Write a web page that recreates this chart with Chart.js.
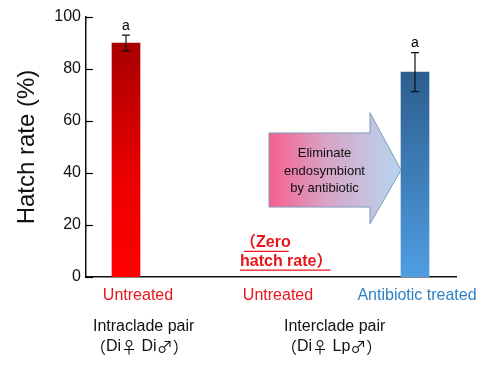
<!DOCTYPE html>
<html>
<head>
<meta charset="utf-8">
<script src="https://cdn.jsdelivr.net/npm/chart.js@4.4.1/dist/chart.umd.min.js"></script>
<style>
  html, body { margin: 0; padding: 0; background: #fff; }
  #wrap { width: 500px; height: 367px; }
</style>
</head>
<body>
<div id="wrap"><canvas id="hatchChart"></canvas></div>
<script>
"use strict";

// data
var barPos = [40, 192, 329];            // bar centres on the x scale
var hatchRate = [90, 0, 78.8];          // mean hatch rate (%)
var hatchErr = [3, 0, 7.5];             // error bar half-length
var sigLetters = ["a", "", "a"];
var tickPos = [52, 192, 331];           // where the treatment labels sit
var treatLabels = ["Untreated", "Untreated", "Antibiotic treated"];
var treatColors = ["#e8151c", "#e8151c", "#2f80c3"];
var yTicks = [0, 20, 40, 60, 80, 100];

var groupLabels = [
  { x: 7, lines: ["Intraclade pair", "（Di♀ Di♂）"] },
  { x: 198, lines: ["Interclade pair", "（Di♀ Lp♂）"] }
];

var FONT = "'Liberation Sans', Arial, 'Noto Sans CJK JP', sans-serif";
var CJK = "'Noto Sans CJK JP', 'Liberation Sans', sans-serif";

// draw text char by char, symbols and full-width brackets from the CJK font
function drawMixed(c, text, x, y) {
  var wide = "（）♀♂";
  for (var i = 0; i < text.length; i++) {
    var ch = text[i];
    c.font = wide.indexOf(ch) >= 0 ? "16px " + CJK : "16px " + FONT;
    c.fillText(ch, x, y);
    x += c.measureText(ch).width;
  }
}

function barGradient(ctx, i) {
  var chart = ctx.chart;
  if (!chart.chartArea) return i === 2 ? "#3d7fbf" : "#dd0000";
  var y = chart.scales.y;
  var top = y.getPixelForValue(hatchRate[i]);
  var bottom = y.getPixelForValue(0);
  var g = chart.ctx.createLinearGradient(0, top, 0, bottom);
  if (i === 2) {
    g.addColorStop(0, "#2d5e8e");
    g.addColorStop(1, "#4f9de2");
  } else {
    g.addColorStop(0, "#a80000");
    g.addColorStop(0.6, "#ee0000");
    g.addColorStop(1, "#ff0000");
  }
  return g;
}

// inward tick marks, error bars, letters, arrow, notes
var decorations = {
  id: "decorations",
  afterDraw: function (chart) {
    var c = chart.ctx;
    var xs = chart.scales.x;
    var ys = chart.scales.y;
    var area = chart.chartArea;

    c.save();
    // y tick marks pointing inward
    c.strokeStyle = "#000";
    c.lineWidth = 1.2;
    yTicks.forEach(function (v) {
      var py = Math.round(ys.getPixelForValue(v)) + 0.5;
      c.beginPath();
      c.moveTo(area.left, py);
      c.lineTo(area.left + 7, py);
      c.stroke();
    });

    // error bars + significance letters
    hatchRate.forEach(function (v, i) {
      if (!hatchErr[i]) return;
      var px = xs.getPixelForValue(barPos[i]);
      var top = ys.getPixelForValue(v + hatchErr[i]);
      var bot = ys.getPixelForValue(v - hatchErr[i]);
      c.strokeStyle = "#111";
      c.lineWidth = 1.2;
      c.beginPath();
      c.moveTo(px, top); c.lineTo(px, bot);
      c.moveTo(px - 4, top); c.lineTo(px + 4, top);
      c.moveTo(px - 4, bot); c.lineTo(px + 4, bot);
      c.stroke();
      c.fillStyle = "#000";
      c.font = "14px " + FONT;
      c.textAlign = "center";
      c.textBaseline = "bottom";
      c.fillText(sigLetters[i], px, top - 2);
    });

    // arrow "Eliminate endosymbiont by antibiotic"
    var x0 = xs.getPixelForValue(183), x1 = xs.getPixelForValue(284), x2 = xs.getPixelForValue(315);
    var bT = ys.getPixelForValue(55.4), bB = ys.getPixelForValue(26.9);
    var hT = ys.getPixelForValue(63.2), hB = ys.getPixelForValue(20.4);
    var mid = (bT + bB) / 2;
    var g = c.createLinearGradient(x0, 0, x2, 0);
    g.addColorStop(0, "#f65f8e");
    g.addColorStop(0.45, "#d7a6c8");
    g.addColorStop(1, "#b7d6ef");
    c.beginPath();
    c.moveTo(x0, bT); c.lineTo(x1, bT); c.lineTo(x1, hT); c.lineTo(x2, mid);
    c.lineTo(x1, hB); c.lineTo(x1, bB); c.lineTo(x0, bB); c.closePath();
    c.fillStyle = g;
    c.fill();
    c.strokeStyle = "#7d9cbd";
    c.lineWidth = 1;
    c.stroke();
    c.fillStyle = "#111";
    c.font = "13px " + FONT;
    c.textAlign = "center";
    c.textBaseline = "middle";
    var tx = (x0 + x1) / 2 + 5;
    c.fillText("Eliminate", tx, mid - 17);
    c.fillText("endosymbiont", tx, mid + 1);
    c.fillText("by antibiotic", tx, mid + 18);

    // (Zero hatch rate) note
    var zx = xs.getPixelForValue(154);
    c.fillStyle = "#e8151c";
    c.strokeStyle = "#e8151c";
    c.font = "bold 16px " + FONT;
    c.textAlign = "left";
    c.textBaseline = "middle";
    var lines = ["（Zero", "hatch rate）"];
    var ly = [ys.getPixelForValue(13.3), ys.getPixelForValue(6.1)];
    lines.forEach(function (t, k) {
      c.fillText(t, zx, ly[k]);
      var w = c.measureText(t).width;
      var sx = k === 0 ? zx + 4 : zx;
      c.lineWidth = 1.2;
      c.beginPath();
      c.moveTo(sx, ly[k] + 9); c.lineTo(zx + w - 2, ly[k] + 9);
      c.stroke();
    });

    // pair groups under the axis
    c.fillStyle = "#111";
    groupLabels.forEach(function (gr) {
      var gx = xs.getPixelForValue(gr.x);
      c.font = "16px " + FONT;
      c.fillText(gr.lines[0], gx, 327);
      drawMixed(c, gr.lines[1], gx - 3, 347);
    });
    c.restore();
  }
};

new Chart(document.getElementById("hatchChart"), {
  type: "bar",
  data: {
    datasets: [{
      data: barPos.map(function (p, i) { return { x: p, y: hatchRate[i] }; }),
      barThickness: 28,
      backgroundColor: function (ctx) { return barGradient(ctx, ctx.dataIndex); },
      borderWidth: 0
    }]
  },
  options: {
    responsive: true,
    maintainAspectRatio: false,
    animation: false,
    layout: { padding: { top: 17, right: 44, left: 0, bottom: 0 } },
    plugins: { legend: { display: false }, tooltip: { enabled: false } },
    scales: {
      x: {
        type: "linear",
        offset: false,
        min: 0,
        max: 370,
        afterBuildTicks: function (axis) {
          axis.ticks = tickPos.map(function (v) { return { value: v }; });
        },
        afterFit: function (axis) { axis.height = 90; },
        grid: { display: false, drawTicks: false },
        border: { display: true, color: "#111", width: 1.5 },
        ticks: {
          autoSkip: false,
          maxRotation: 0,
          padding: 9,
          font: { size: 16, family: FONT },
          color: function (ctx) { return treatColors[ctx.index]; },
          callback: function (v, i) { return treatLabels[i]; }
        }
      },
      y: {
        min: 0,
        max: 100,
        afterBuildTicks: function (axis) {
          axis.ticks = yTicks.map(function (v) { return { value: v }; });
        },
        afterFit: function (axis) { axis.width = 86; },
        grid: { display: false, drawTicks: false },
        border: { display: true, color: "#111", width: 1.5 },
        ticks: {
          padding: 5,
          color: "#111",
          font: { size: 16, family: FONT }
        },
        title: {
          display: true,
          text: "Hatch rate (%)",
          color: "#111",
          font: { size: 24, family: FONT },
          padding: { top: 13, bottom: 0 }
        }
      }
    }
  },
  plugins: [decorations]
});
</script>
</body>
</html>
